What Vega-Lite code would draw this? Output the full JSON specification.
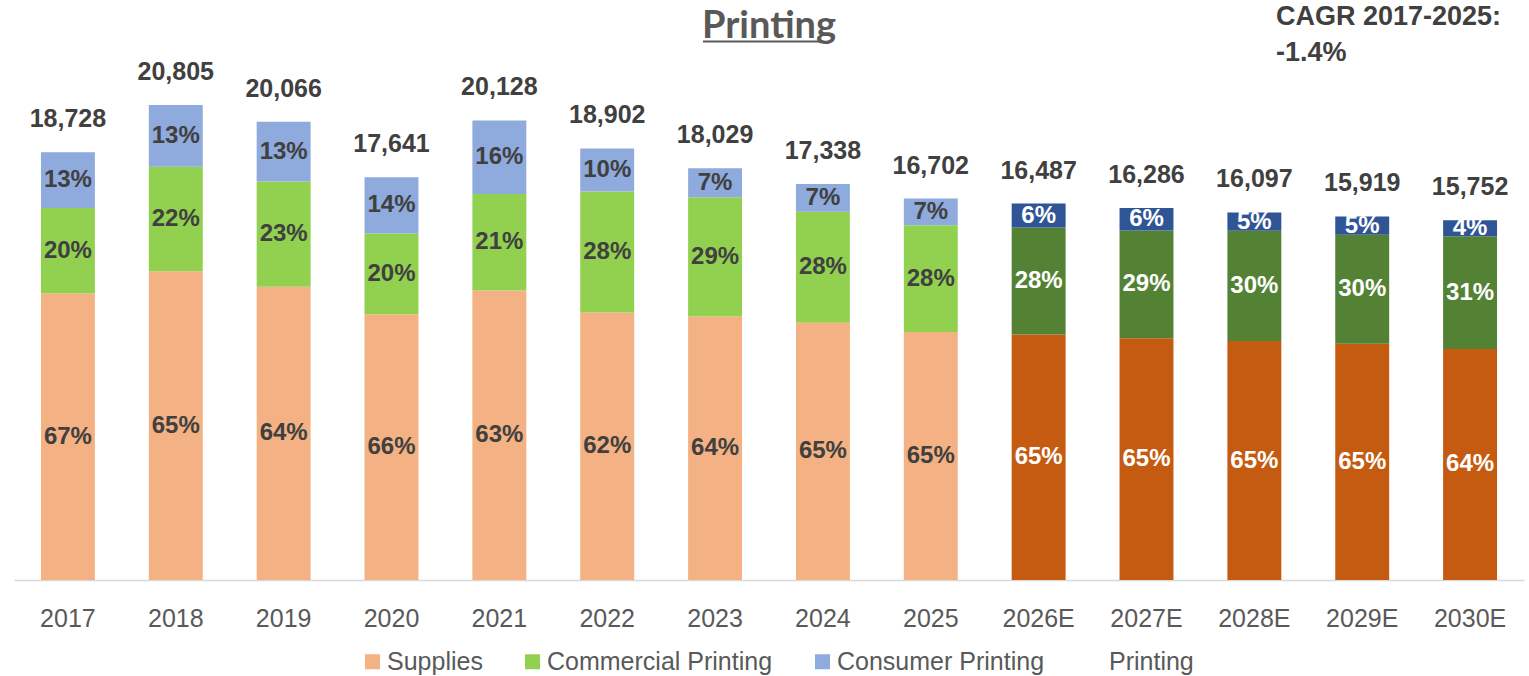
{
  "$schema": "https://vega.github.io/schema/vega-lite/v6.json",
  "autosize": {"type": "none"},
  "width": 1510,
  "height": 580,
  "padding": {"left": 14, "top": 0, "right": 5, "bottom": 96},
  "background": "white",
  "title": {"text": "Printing", "font": "Lato", "fontSize": 38, "fontWeight": "bold", "color": "#595959", "anchor": "middle", "frame": "group", "offset": -46},
  "datasets": {
    "segments": [
      {"year": "2017", "category": "Supplies", "value": 12548, "label": "67%", "period": "hist", "rank": 1},
      {"year": "2017", "category": "Commercial Printing", "value": 3746, "label": "20%", "period": "hist", "rank": 2},
      {"year": "2017", "category": "Consumer Printing", "value": 2434, "label": "13%", "period": "hist", "rank": 3},
      {"year": "2018", "category": "Supplies", "value": 13523, "label": "65%", "period": "hist", "rank": 1},
      {"year": "2018", "category": "Commercial Printing", "value": 4577, "label": "22%", "period": "hist", "rank": 2},
      {"year": "2018", "category": "Consumer Printing", "value": 2705, "label": "13%", "period": "hist", "rank": 3},
      {"year": "2019", "category": "Supplies", "value": 12842, "label": "64%", "period": "hist", "rank": 1},
      {"year": "2019", "category": "Commercial Printing", "value": 4615, "label": "23%", "period": "hist", "rank": 2},
      {"year": "2019", "category": "Consumer Printing", "value": 2609, "label": "13%", "period": "hist", "rank": 3},
      {"year": "2020", "category": "Supplies", "value": 11643, "label": "66%", "period": "hist", "rank": 1},
      {"year": "2020", "category": "Commercial Printing", "value": 3528, "label": "20%", "period": "hist", "rank": 2},
      {"year": "2020", "category": "Consumer Printing", "value": 2470, "label": "14%", "period": "hist", "rank": 3},
      {"year": "2021", "category": "Supplies", "value": 12681, "label": "63%", "period": "hist", "rank": 1},
      {"year": "2021", "category": "Commercial Printing", "value": 4227, "label": "21%", "period": "hist", "rank": 2},
      {"year": "2021", "category": "Consumer Printing", "value": 3220, "label": "16%", "period": "hist", "rank": 3},
      {"year": "2022", "category": "Supplies", "value": 11719, "label": "62%", "period": "hist", "rank": 1},
      {"year": "2022", "category": "Commercial Printing", "value": 5293, "label": "28%", "period": "hist", "rank": 2},
      {"year": "2022", "category": "Consumer Printing", "value": 1890, "label": "10%", "period": "hist", "rank": 3},
      {"year": "2023", "category": "Supplies", "value": 11539, "label": "64%", "period": "hist", "rank": 1},
      {"year": "2023", "category": "Commercial Printing", "value": 5228, "label": "29%", "period": "hist", "rank": 2},
      {"year": "2023", "category": "Consumer Printing", "value": 1262, "label": "7%", "period": "hist", "rank": 3},
      {"year": "2024", "category": "Supplies", "value": 11270, "label": "65%", "period": "hist", "rank": 1},
      {"year": "2024", "category": "Commercial Printing", "value": 4855, "label": "28%", "period": "hist", "rank": 2},
      {"year": "2024", "category": "Consumer Printing", "value": 1213, "label": "7%", "period": "hist", "rank": 3},
      {"year": "2025", "category": "Supplies", "value": 10856, "label": "65%", "period": "hist", "rank": 1},
      {"year": "2025", "category": "Commercial Printing", "value": 4677, "label": "28%", "period": "hist", "rank": 2},
      {"year": "2025", "category": "Consumer Printing", "value": 1169, "label": "7%", "period": "hist", "rank": 3},
      {"year": "2026E", "category": "Supplies", "value": 10750, "label": "65%", "period": "fcst", "rank": 1},
      {"year": "2026E", "category": "Commercial Printing", "value": 4682, "label": "28%", "period": "fcst", "rank": 2},
      {"year": "2026E", "category": "Consumer Printing", "value": 1055, "label": "6%", "period": "fcst", "rank": 3},
      {"year": "2027E", "category": "Supplies", "value": 10586, "label": "65%", "period": "fcst", "rank": 1},
      {"year": "2027E", "category": "Commercial Printing", "value": 4723, "label": "29%", "period": "fcst", "rank": 2},
      {"year": "2027E", "category": "Consumer Printing", "value": 977, "label": "6%", "period": "fcst", "rank": 3},
      {"year": "2028E", "category": "Supplies", "value": 10463, "label": "65%", "period": "fcst", "rank": 1},
      {"year": "2028E", "category": "Commercial Printing", "value": 4829, "label": "30%", "period": "fcst", "rank": 2},
      {"year": "2028E", "category": "Consumer Printing", "value": 805, "label": "5%", "period": "fcst", "rank": 3},
      {"year": "2029E", "category": "Supplies", "value": 10347, "label": "65%", "period": "fcst", "rank": 1},
      {"year": "2029E", "category": "Commercial Printing", "value": 4776, "label": "30%", "period": "fcst", "rank": 2},
      {"year": "2029E", "category": "Consumer Printing", "value": 796, "label": "5%", "period": "fcst", "rank": 3},
      {"year": "2030E", "category": "Supplies", "value": 10120, "label": "64%", "period": "fcst", "rank": 1},
      {"year": "2030E", "category": "Commercial Printing", "value": 4930, "label": "31%", "period": "fcst", "rank": 2},
      {"year": "2030E", "category": "Consumer Printing", "value": 702, "label": "4%", "period": "fcst", "rank": 3}
    ],
    "totals": [
      {"year": "2017", "total": 18728},
      {"year": "2018", "total": 20805},
      {"year": "2019", "total": 20066},
      {"year": "2020", "total": 17641},
      {"year": "2021", "total": 20128},
      {"year": "2022", "total": 18902},
      {"year": "2023", "total": 18029},
      {"year": "2024", "total": 17338},
      {"year": "2025", "total": 16702},
      {"year": "2026E", "total": 16487},
      {"year": "2027E", "total": 16286},
      {"year": "2028E", "total": 16097},
      {"year": "2029E", "total": 15919},
      {"year": "2030E", "total": 15752}
    ]
  },
  "encoding": {
    "x": {
      "field": "year", "type": "ordinal", "sort": "ascending",
      "scale": {"paddingInner": 0.5, "paddingOuter": 0.25},
      "axis": {"title": null, "labelAngle": 0, "ticks": false, "domainColor": "#D9D9D9", "domainWidth": 1.5, "labelFont": "Liberation Sans", "labelFontSize": 25, "labelColor": "#595959", "labelPadding": 26, "grid": false}
    }
  },
  "layer": [
    {
      "data": {"name": "segments"},
      "transform": [{"filter": "datum.period == 'hist'"}],
      "mark": {"type": "bar"},
      "encoding": {
        "y": {"field": "value", "type": "quantitative", "stack": "zero", "scale": {"domain": [0, 25400], "nice": false, "zero": true}, "axis": null},
        "color": {
          "field": "category", "type": "nominal",
          "scale": {"domain": ["Supplies", "Commercial Printing", "Consumer Printing", "Printing"], "range": ["#F4B183", "#92D050", "#8FAADC", "rgba(0,0,0,0)"]},
          "legend": {"title": null, "orient": "none", "legendX": 346, "legendY": 649, "direction": "horizontal", "symbolType": "square", "symbolSize": 225, "symbolStrokeWidth": 0, "labelFont": "Liberation Sans", "labelFontSize": 25, "labelColor": "#595959", "labelOffset": 2, "columnPadding": 37, "padding": 0, "labelLimit": 400}
        },
        "order": {"field": "rank", "type": "quantitative"}
      }
    },
    {
      "data": {"name": "segments"},
      "transform": [{"filter": "datum.period == 'fcst'"}],
      "mark": {"type": "bar"},
      "encoding": {
        "y": {"field": "value", "type": "quantitative", "stack": "zero"},
        "color": {
          "field": "category", "type": "nominal",
          "scale": {"domain": ["Supplies", "Commercial Printing", "Consumer Printing"], "range": ["#C55A11", "#548235", "#2F5597"]},
          "legend": null
        },
        "order": {"field": "rank", "type": "quantitative"}
      }
    },
    {
      "data": {"name": "segments"},
      "mark": {"type": "text", "font": "Liberation Sans", "fontSize": 24, "fontWeight": "bold", "baseline": "middle"},
      "encoding": {
        "y": {"field": "value", "type": "quantitative", "stack": "zero", "bandPosition": 0.5},
        "order": {"field": "rank", "type": "quantitative"},
        "text": {"field": "label", "type": "nominal"},
        "color": {"condition": {"test": "datum.period == 'fcst'", "value": "#FFFFFF"}, "value": "#404040"}
      }
    },
    {
      "data": {"name": "totals"},
      "mark": {"type": "text", "font": "Liberation Sans", "fontSize": 25, "fontWeight": "bold", "baseline": "alphabetic", "dy": -25, "color": "#404040"},
      "encoding": {
        "y": {"field": "total", "type": "quantitative"},
        "text": {"field": "total", "type": "quantitative", "format": ","}
      }
    },
    {
      "data": {"values": [{"note": "CAGR"}]},
      "mark": {"type": "text", "font": "Liberation Sans", "fontSize": 27, "fontWeight": "bold", "align": "left", "baseline": "top", "dy": 4, "lineHeight": 36, "color": "#404040", "text": ["CAGR 2017-2025:", "-1.4%"]},
      "encoding": {
        "x": {"datum": "2028E", "bandPosition": 0.9},
        "y": {"datum": 25400, "type": "quantitative"}
      }
    },
    {
      "data": {"values": [{"note": "title underline"}]},
      "mark": {"type": "rule", "color": "#595959", "strokeWidth": 2},
      "encoding": {
        "x": {"datum": "2023", "bandPosition": 0.276},
        "x2": {"datum": "2024", "bandPosition": 0.445},
        "y": {"datum": 23583, "type": "quantitative"}
      }
    }
  ],
  "resolve": {"scale": {"color": "independent"}},
  "config": {"view": {"stroke": null}}
}
